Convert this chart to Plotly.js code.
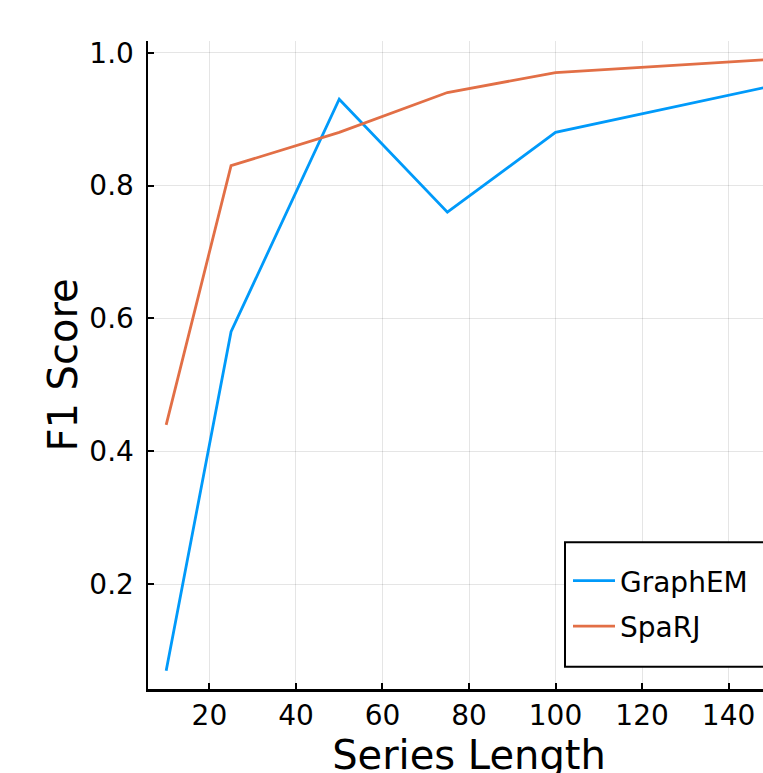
<!DOCTYPE html>
<html>
<head>
<meta charset="utf-8">
<script src="https://cdn.plot.ly/plotly-3.0.1.min.js"></script>
<style>
html,body{margin:0;padding:0;overflow:hidden;background:#fff;}
#chart{width:810px;height:800px;}
</style>
</head>
<body>
<div id="chart"></div>
<script>
const seriesLength = [10, 25, 50, 75, 100, 150];
const graphEM = [0.07, 0.58, 0.93, 0.76, 0.88, 0.95];
const spaRJ = [0.44, 0.83, 0.88, 0.94, 0.97, 0.99];
const xTicks = [20, 40, 60, 80, 100, 120, 140];
const yTicks = [0.2, 0.4, 0.6, 0.8, 1.0];
const yTickText = ['0.2', '0.4', '0.6', '0.8', '1.0'];

const font = 'DejaVu Sans, sans-serif';

const traces = [
  {x: seriesLength, y: graphEM, name: 'GraphEM', type: 'scatter', mode: 'lines',
   line: {color: '#009AFA', width: 2.8}, legendgroup: 'a'},
  {x: seriesLength, y: spaRJ, name: 'SpaRJ', type: 'scatter', mode: 'lines',
   line: {color: '#E26F46', width: 2.8}, legendgroup: 'b'}
];

const layout = {
  width: 810, height: 800,
  margin: {l: 148, r: 20, t: 41, b: 111},
  paper_bgcolor: '#fff', plot_bgcolor: '#fff',
  font: {family: font, color: '#000', size: 28},
  showlegend: true,
  xaxis: {
    range: [5.8, 154.2], tickmode: 'array', tickvals: xTicks,
    ticks: 'inside', ticklen: 6, tickwidth: 2, tickcolor: '#000',
    showline: true, linewidth: 2.5, linecolor: '#000',
    showgrid: true, gridcolor: 'rgba(0,0,0,0.1)', gridwidth: 1,
    zeroline: false, automargin: false,
    tickfont: {size: 28, family: font, color: '#000'},
    title: {text: 'Series Length', font: {size: 40, family: font, color: '#000'}, standoff: 8}
  },
  yaxis: {
    range: [0.0424, 1.0176], tickmode: 'array', tickvals: yTicks, ticktext: yTickText,
    ticks: 'inside', ticklen: 6, tickwidth: 2, tickcolor: '#000',
    showline: true, linewidth: 2.5, linecolor: '#000',
    showgrid: true, gridcolor: 'rgba(0,0,0,0.1)', gridwidth: 1,
    zeroline: false, automargin: false, ticklabelstandoff: 6,
    tickfont: {size: 28, family: font, color: '#000'},
    title: {text: 'F1 Score', font: {size: 40, family: font, color: '#000'}, standoff: 0}
  },
  shapes: [{
    type: 'rect', xref: 'paper', yref: 'paper', layer: 'above',
    x0: (565 - 148) / 642, x1: 0.985, y0: (689 - 666.7) / 648, y1: (689 - 542.3) / 648,
    line: {color: '#000', width: 2}, fillcolor: '#fff'
  }],
  legend: {
    x: (568 - 148) / 642, xanchor: 'left',
    y: (689 - 556) / 648, yanchor: 'top',
    bgcolor: 'rgba(0,0,0,0)', borderwidth: 0,
    font: {size: 28, family: font, color: '#000'},
    tracegroupgap: 6, itemwidth: 42
  }
};

Plotly.newPlot('chart', traces, layout, {displayModeBar: false, staticPlot: true});
</script>
</body>
</html>
